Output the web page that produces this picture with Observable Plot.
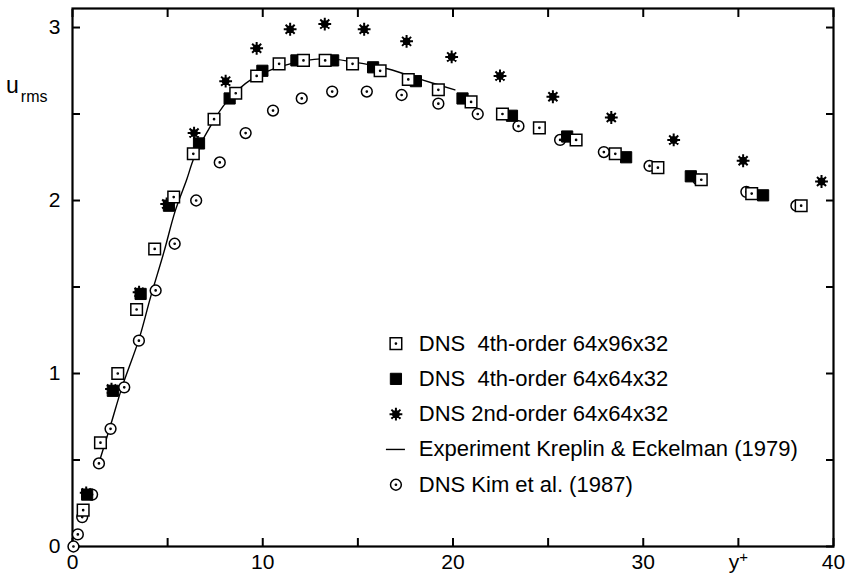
<!DOCTYPE html>
<html><head><meta charset="utf-8">
<script src="https://cdn.jsdelivr.net/npm/d3@7"></script>
<script src="https://cdn.jsdelivr.net/npm/@observablehq/plot@0.6"></script>
<style>body{margin:0;background:#fff} #chart{width:851px;height:579px}</style>
</head><body><div id="chart"></div>
<script>
// ---- data ----
const sq96X = [0.56,1.47,2.38,3.37,4.32,5.32,6.35,7.44,8.58,9.68,10.86,12.14,13.28,14.72,16.17,17.65,19.23,20.95,22.6,24.54,26.47,28.53,30.77,33.05,35.7,38.3];
const sq96Y = [0.21,0.60,1.00,1.37,1.72,2.02,2.27,2.47,2.62,2.72,2.79,2.81,2.81,2.79,2.75,2.70,2.64,2.57,2.50,2.42,2.35,2.27,2.19,2.12,2.04,1.97];
const sq64X = [0.77,2.12,3.58,5.07,6.65,8.26,9.98,11.77,13.7,15.8,18.05,20.5,23.1,26.0,29.1,32.5,36.3];
const sq64Y = [0.30,0.90,1.46,1.97,2.33,2.59,2.75,2.81,2.81,2.77,2.69,2.59,2.49,2.37,2.25,2.14,2.03];
const star2X = [0.72,2.05,3.5,4.95,6.39,8.05,9.68,11.44,13.26,15.33,17.56,19.93,22.47,25.25,28.32,31.6,35.25,39.37];
const star2Y = [0.31,0.91,1.47,1.98,2.39,2.69,2.88,2.99,3.02,2.99,2.92,2.83,2.72,2.60,2.48,2.35,2.23,2.11];
const kimX = [0.05,0.28,0.51,1.03,1.39,2.0,2.72,3.49,4.37,5.37,6.5,7.74,9.1,10.54,12.05,13.65,15.47,17.3,19.23,21.3,23.44,25.63,27.93,30.33,32.9,35.42,38.05];
const kimY = [0.0,0.07,0.17,0.30,0.48,0.68,0.92,1.19,1.48,1.75,2.0,2.22,2.39,2.52,2.59,2.63,2.63,2.61,2.56,2.50,2.43,2.35,2.28,2.20,2.12,2.05,1.97];
const expX = [1.35,2.0,2.6,3.5,4.1,4.8,5.4,6.0,6.4,7.2,8.1,9.4,11.1,13.2,14.8,16.6,18.3,20.1];
const expY = [0.47,0.70,0.92,1.20,1.44,1.70,1.94,2.12,2.25,2.42,2.57,2.70,2.78,2.82,2.80,2.76,2.70,2.64];

const xTicks = [0,5,10,15,20,25,30,35,40];
const xTickLabels = ["0","","10","","20","","30","y+","40"];
const yTicks = [0,0.5,1,1.5,2,2.5,3];
const yTickLabels = ["0","","1","","2","","3"];

const legendLabels = [
  "DNS  4th-order 64x96x32",
  "DNS  4th-order 64x64x32",
  "DNS 2nd-order 64x64x32",
  "Experiment Kreplin & Eckelman (1979)",
  "DNS Kim et al. (1987)"
];
const legendKeys = ["sq96","sq64","star","line","kim"];

// ---- build tables ----
const zip = (xs, ys) => xs.map((x, i) => ({x, y: ys[i]}));
const sq96 = zip(sq96X, sq96Y), sq64 = zip(sq64X, sq64Y), star2 = zip(star2X, star2Y);
const kim = zip(kimX, kimY), exp = zip(expX, expY);

// legend placement in data units
const legSymX = 17.0, legTextX = 18.2, legTop = 1.173, legStep = 0.204;
const legend = legendLabels.map((label, i) => ({label, key: legendKeys[i], y: legTop - i * legStep}));

// ---- custom symbols ----
const squareDot = {draw(ctx, size) { const r = Math.sqrt(size / Math.PI);
  ctx.moveTo(-r, -r); ctx.lineTo(r, -r); ctx.lineTo(r, r); ctx.lineTo(-r, r); ctx.closePath();
  ctx.moveTo(0.6, 0); ctx.arc(0, 0, 0.6, 0, 2 * Math.PI); }};
const squarePlain = {draw(ctx, size) { const r = Math.sqrt(size / Math.PI);
  ctx.moveTo(-r, -r); ctx.lineTo(r, -r); ctx.lineTo(r, r); ctx.lineTo(-r, r); ctx.closePath(); }};
const circleDot = {draw(ctx, size) { const r = Math.sqrt(size / Math.PI);
  ctx.moveTo(r, 0); ctx.arc(0, 0, r, 0, 2 * Math.PI);
  ctx.moveTo(0.6, 0); ctx.arc(0, 0, 0.6, 0, 2 * Math.PI); }};
const star8 = {draw(ctx, size) { const r = Math.sqrt(size / Math.PI);
  for (let k = 0; k < 4; k++) { const a = k * Math.PI / 4, c = Math.cos(a) * r, s = Math.sin(a) * r;
    ctx.moveTo(-c, -s); ctx.lineTo(c, s); }
  ctx.moveTo(r * 0.45, 0); ctx.arc(0, 0, r * 0.45, 0, 2 * Math.PI); }};

const styleFor = {
  kim:  {symbol: circleDot, r: 5.4, fill: "white", stroke: "black", strokeWidth: 1.5},
  sq64: {symbol: squarePlain, r: 5.6, fill: "black", stroke: "black", strokeWidth: 1},
  sq96: {symbol: squareDot, r: 5.8, fill: "white", stroke: "black", strokeWidth: 1.5},
  star: {symbol: star8, r: 6.4, fill: "black", stroke: "black", strokeWidth: 2}
};

const plot = Plot.plot({
  width: 851, height: 579,
  marginLeft: 72, marginRight: 18, marginTop: 8, marginBottom: 33,
  x: {domain: [0, 40]},
  y: {domain: [0, 3.11]},
  style: {fontFamily: "'Liberation Sans', Arial, sans-serif", fontSize: "21px", color: "black", background: "white"},
  marks: [
    Plot.axisX({ticks: xTicks, tickSize: -8, tickPadding: 16, stroke: "black", strokeWidth: 2,
      tickFormat: d => xTickLabels[xTicks.indexOf(d)], label: null}),
    Plot.axisX({anchor: "top", ticks: xTicks, tickSize: -8, stroke: "black", strokeWidth: 2, tickFormat: () => "", label: null}),
    Plot.axisY({ticks: yTicks, tickSize: -8, tickPadding: 20, stroke: "black", strokeWidth: 2,
      tickFormat: d => yTickLabels[yTicks.indexOf(d)], label: null}),
    Plot.axisY({anchor: "right", ticks: yTicks, tickSize: -8, stroke: "black", strokeWidth: 2, tickFormat: () => "", label: null}),
    Plot.frame({stroke: "black", strokeWidth: 2.2}),
    Plot.line(exp, {x: "x", y: "y", curve: "catmull-rom", stroke: "black", strokeWidth: 1.4}),
    Plot.dot(kim, {x: "x", y: "y", ...styleFor.kim}),
    Plot.dot(star2, {x: "x", y: "y", ...styleFor.star}),
    Plot.dot(sq64, {x: "x", y: "y", ...styleFor.sq64}),
    Plot.dot(sq96, {x: "x", y: "y", ...styleFor.sq96}),
    // legend
    Plot.dot(legend.filter(d => d.key === "sq96"), {x: () => legSymX, y: "y", ...styleFor.sq96}),
    Plot.dot(legend.filter(d => d.key === "sq64"), {x: () => legSymX, y: "y", ...styleFor.sq64}),
    Plot.dot(legend.filter(d => d.key === "star"), {x: () => legSymX, y: "y", ...styleFor.star}),
    Plot.dot(legend.filter(d => d.key === "kim"), {x: () => legSymX, y: "y", ...styleFor.kim}),
    Plot.ruleY(legend.filter(d => d.key === "line"), {y: "y", x1: () => legSymX - 0.5, x2: () => legSymX + 0.5, stroke: "black", strokeWidth: 1.4}),
    Plot.text(legend, {x: () => legTextX, y: "y", text: "label", textAnchor: "start", fontSize: 22, fill: "black"})
  ]
});

// superscript for y+ tick label and the u_rms axis title
d3.select(plot).selectAll("text").each(function() {
  if (this.textContent === "y+") {
    this.textContent = "y";
    d3.select(this).append("tspan").attr("dy", -7).attr("font-size", 15).text("+");
  }
});
const t = d3.select(plot).append("text").attr("x", 6).attr("y", 93)
  .attr("text-anchor", "start").attr("font-size", 23).attr("fill", "black").text("u");
t.append("tspan").attr("dx", 2).attr("dy", 9).attr("font-size", 16).text("rms");

document.getElementById("chart").appendChild(plot);
</script>
</body></html>
